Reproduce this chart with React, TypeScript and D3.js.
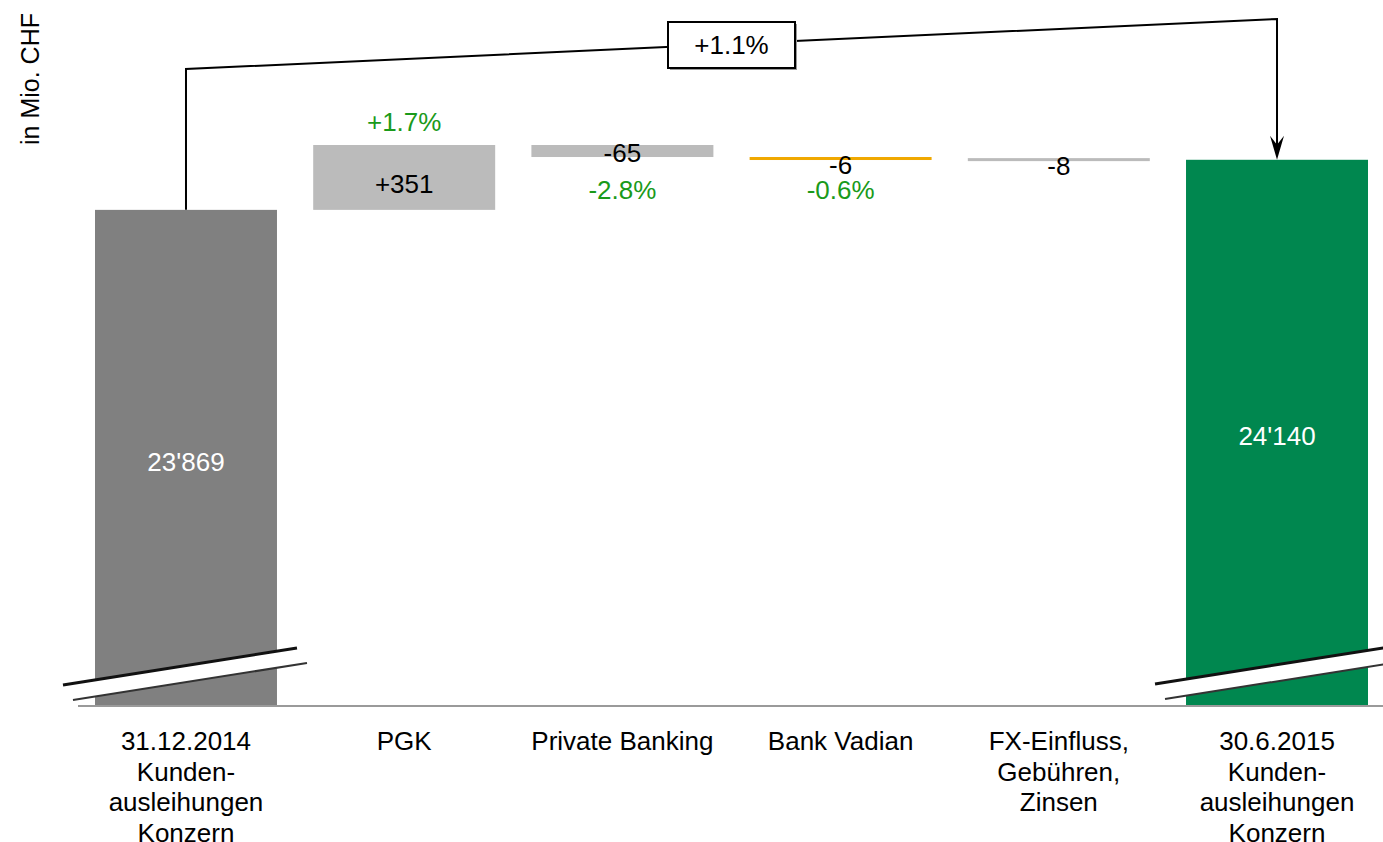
import React from 'react';
import * as d3 from 'd3';

// waterfall: Kundenausleihungen Konzern, in Mio. CHF
const categories = [
  ['31.12.2014', 'Kunden-', 'ausleihungen', 'Konzern'],
  ['PGK'],
  ['Private Banking'],
  ['Bank Vadian'],
  ['FX-Einfluss,', 'Gebühren,', 'Zinsen'],
  ['30.6.2015', 'Kunden-', 'ausleihungen', 'Konzern'],
];
const values = [23869, 351, -65, -6, -8, 24140];
const kinds = ['total', 'delta', 'delta', 'delta', 'delta', 'total'];
const valueLabels = ["23'869", '+351', '-65', '-6', '-8', "24'140"];
const pctLabels = ['', '+1.7%', '-2.8%', '-0.6%', '', ''];
const colors = ['#808080', '#bbbbbb', '#bbbbbb', '#f0a800', '#bbbbbb', '#00874f'];
const totalChange = '+1.1%';

const W = 1383;
const H = 842;
const FONT = '"Liberation Sans", Arial, sans-serif';
const FS = 26;

export default function App() {
  const x = d3.scaleBand<number>().domain(d3.range(values.length)).range([95, 1368]).paddingInner(0.166);
  const y = d3.scaleLinear().domain([21190, 24220]).range([705, 145]);
  const baseY = 705;

  // running totals
  let run = 0;
  const bars = values.map((v, i) => {
    let y0: number, y1: number;
    if (kinds[i] === 'total') {
      y0 = 21190; y1 = v; run = v;
    } else {
      y0 = run; y1 = run + v; run = run + v;
    }
    return { i, y0, y1, top: Math.min(y(y0), y(y1)), bot: Math.max(y(y0), y(y1)) };
  });

  const bw = x.bandwidth();
  const cx = (i: number) => (x(i) as number) + bw / 2;

  const first = bars[0];
  const last = bars[bars.length - 1];
  const bx1 = cx(0), bx2 = cx(values.length - 1);
  const lineYL = 69, lineYR = 19;
  const boxW = 127, boxH = 46;
  const boxCx = (bx1 + bx2) / 2;
  const boxCy = (lineYL + lineYR) / 2 + 1;

  const breakMark = (xl: number, yl: number) => {
    const len = 234, dy = -37;
    return (
      <g>
        <polygon points={`${xl},${yl} ${xl + len},${yl + dy} ${xl + len + 10},${yl + dy + 15} ${xl + 10},${yl + 15}`} fill="#fff" />
        <line x1={xl} y1={yl} x2={xl + len} y2={yl + dy} stroke="#111" strokeWidth={3} />
        <line x1={xl + 10} y1={yl + 15} x2={xl + len + 10} y2={yl + dy + 15} stroke="#333" strokeWidth={2} />
      </g>
    );
  };

  return (
    <svg width={W} height={H} style={{ position: 'absolute', left: 0, top: 0 }} fontFamily={FONT}>
      <rect width={W} height={H} fill="#fff" />
      <text transform="translate(39,145) rotate(-90)" fontSize={FS - 1} fill="#000">in Mio. CHF</text>

      {bars.map((b) => (
        <rect key={b.i} x={x(b.i)} y={b.top} width={bw}
          height={Math.max(b.bot - b.top, kinds[b.i] === 'total' ? 0 : 3)} fill={colors[b.i]} />
      ))}

      <line x1={78} x2={W} y1={baseY + 1} y2={baseY + 1} stroke="#9a9a9a" strokeWidth={2} />

      {breakMark(cx(0) - 123, 685)}
      {breakMark(cx(5) - 122, 684)}

      {/* value labels */}
      {bars.map((b) => {
        const isTotal = kinds[b.i] === 'total';
        const small = b.bot - b.top < 30;
        const ty = isTotal ? (b.top + b.bot) / 2 + 4 : small ? b.top + 8 : (b.top + b.bot) / 2 + 6;
        return (
          <text key={b.i} x={cx(b.i)} y={ty} dy="0.35em" textAnchor="middle" fontSize={FS}
            fill={isTotal ? '#fff' : '#000'}>{valueLabels[b.i]}</text>
        );
      })}

      {/* percent labels */}
      {bars.map((b) => pctLabels[b.i] ? (
        <text key={b.i} x={cx(b.i)} y={values[b.i] > 0 ? b.top - 23 : 190} dy="0.35em" textAnchor="middle"
          fontSize={FS} fill="#1a9a1a">{pctLabels[b.i]}</text>
      ) : null)}

      {/* bracket */}
      <path d={`M${bx1},${first.top} L${bx1},${lineYL} L${bx2},${lineYR} L${bx2},${last.top - 4}`}
        fill="none" stroke="#000" strokeWidth={2} />
      <path d={`M${bx2},${last.top} L${bx2 - 7},${last.top - 24} L${bx2},${last.top - 15} L${bx2 + 7},${last.top - 24} Z`} fill="#000" />
      <rect x={boxCx - boxW / 2 + 2} y={boxCy - boxH / 2 + 2} width={boxW} height={boxH} fill="#999" />
      <rect x={boxCx - boxW / 2} y={boxCy - boxH / 2} width={boxW} height={boxH} fill="#fff" stroke="#000" strokeWidth={2} />
      <text x={boxCx} y={boxCy} dy="0.35em" textAnchor="middle" fontSize={FS}>{totalChange}</text>

      {/* categories */}
      {categories.map((lines, i) => (
        <text key={i} x={cx(i)} y={750} textAnchor="middle" fontSize={FS}>
          {lines.map((l, j) => (
            <tspan key={j} x={cx(i)} dy={j === 0 ? 0 : 30.5}>{l}</tspan>
          ))}
        </text>
      ))}
    </svg>
  );
}
